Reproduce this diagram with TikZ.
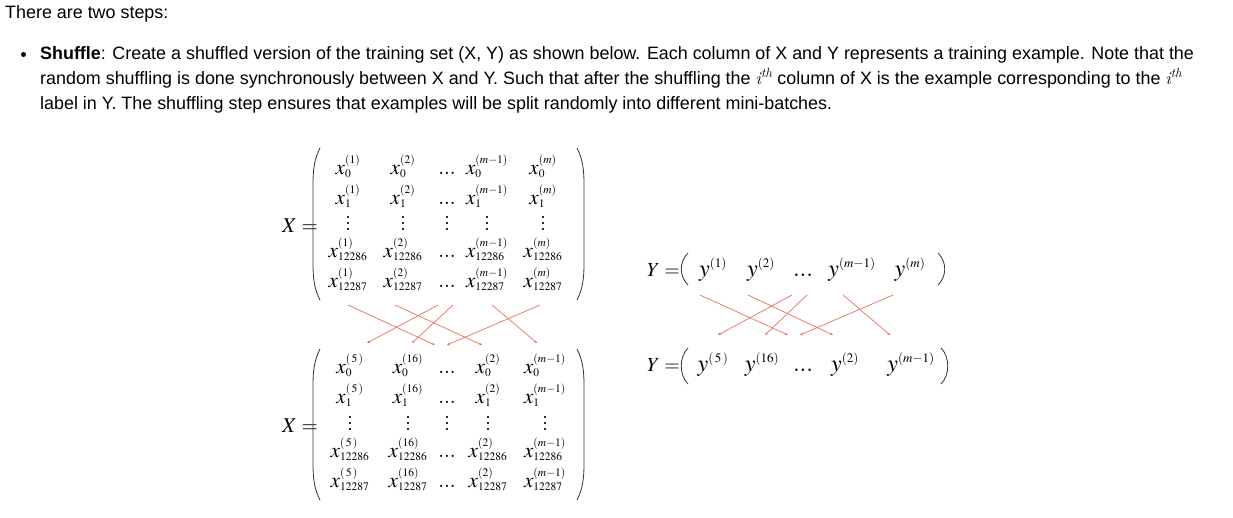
\documentclass[tikz,border=0pt]{standalone}
\usepackage{mathptmx}
\usepackage{fontspec}
\setmainfont{Liberation Sans}
\usetikzlibrary{arrows.meta}
\DeclareMathSizes{21}{21}{11.5}{8}
\DeclareMathSizes{24}{24}{13}{9}
\definecolor{arr}{RGB}{228,112,96}
\newcommand\ith{{\fontfamily{lmr}\selectfont\itshape i\textsuperscript{th}}}
\newcommand\vdts{\vbox{\baselineskip6pt\lineskiplimit0pt\hbox{.}\hbox{.}\hbox{.}}}
\tikzset{
 ent/.style={anchor=base, inner sep=0pt, font=\fontsize{21}{23}\selectfont},
 vd/.style={anchor=center, inner sep=0pt, font=\fontsize{18}{20}\selectfont},
 yent/.style={anchor=base, inner sep=0pt, font=\fontsize{24}{26}\selectfont},
 lab/.style={anchor=base west, inner sep=0pt, font=\fontsize{21}{23}\selectfont},
 shuf/.style={draw=arr, line width=0.7pt, -{Stealth[length=3pt,width=2.6pt]}},
 paren/.style={draw=black!80, line width=0.8pt},
 txt/.style={anchor=base west, inner sep=0pt, font=\fontsize{17.9}{20}\selectfont},
}
\begin{document}
\begin{tikzpicture}[x=1pt,y=-1pt]
\useasboundingbox (0,0) rectangle (1233,517);
% text
\node[txt] (l0) at (5,18.5) {There are two steps:};
\fill (23.5,54.5) circle (2.5);
\node[txt] (l1) at (40,59) {\textbf{Shuffle}: Create a shuffled version of the training set (X, Y) as shown below. Each column of X and Y represents a training example. Note that the};
\node[txt] (l2) at (40,84) {random shuffling is done synchronously between X and Y. Such that after the shuffling the \ith{} column of X is the example corresponding to the \ith};
\node[txt] (l3) at (40,109) {label in Y. The shuffling step ensures that examples will be split randomly into different mini-batches.};

% top X matrix
\node[lab] (X1) at (282,232) {$X=$};
\foreach \c/\s [count=\i] in {348/(1),403/(2),487/(m-1),543/(m)} {
  \foreach \r/\b [count=\j] in {0/174,1/204,12286/257,12287/287} {
    \node[ent] (t\i\j) at (\c,\b) {$x_{\r}^{\s}$};
  }
  \node[vd] (tv\i) at (\c,224) {\vdts};
}
\foreach \b [count=\j] in {174,204,257,287} \node[ent] (td\j) at (447,\b) {$...$};
\node[vd] (tdv) at (447,224) {\vdts};
\draw[paren] (320,148) .. controls (314,160) and (313,170) .. (313,185) -- (313,263) .. controls (313,278) and (314,288) .. (320,300);
\draw[paren] (577,148) .. controls (583,160) and (584,170) .. (584,185) -- (584,263) .. controls (584,278) and (583,288) .. (577,300);

% bottom X matrix
\node[lab] (X2) at (282,432) {$X=$};
\foreach \c/\s [count=\i] in {350/(\,5\,),408/(16),488/(2),545/(m-1)} {
  \foreach \r/\b [count=\j] in {0/373,1/403,12286/457,12287/487} {
    \node[ent] (b\i\j) at (\c,\b) {$x_{\r}^{\s}$};
  }
  \node[vd] (bv\i) at (\c,424) {\vdts};
}
\foreach \b [count=\j] in {373,403,457,487} \node[ent] (bd\j) at (447,\b) {$...$};
\node[vd] (bdv) at (447,424) {\vdts};
\draw[paren] (320,349) .. controls (314,361) and (313,371) .. (313,386) -- (313,463) .. controls (313,478) and (314,488) .. (320,500);
\draw[paren] (577,349) .. controls (583,361) and (584,371) .. (584,386) -- (584,463) .. controls (584,478) and (583,488) .. (577,500);

% X shuffle arrows
\coordinate (xa1) at (348,305); \coordinate (xb1) at (435,345);
\coordinate (xa2) at (395,305); \coordinate (xb2) at (482,345);
\coordinate (xa3) at (438,305); \coordinate (xb3) at (367,343);
\coordinate (xa4) at (453,305); \coordinate (xb4) at (412,343);
\coordinate (xa5) at (492,305); \coordinate (xb5) at (537,343);
\coordinate (xa6) at (540,305); \coordinate (xb6) at (447,345);
\foreach \k in {1,...,6} \draw[shuf] (xa\k) -- (xb\k);

% top Y
\node[lab,font=\fontsize{20}{24}\selectfont] (Y1) at (647,276) {$Y=$};
\node[yent] (ty1) at (713,276) {$y^{(1)}$};
\node[yent] (ty2) at (761,276) {$y^{(2)}$};
\node[yent] (tyd) at (803,276) {$...$};
\node[yent] (ty3) at (852,276) {$y^{(m-1)}$};
\node[yent] (ty4) at (910,276) {$y^{(m)}$};
\draw[paren] (688,253) .. controls (679,262) and (679,276) .. (688,285);
\draw[paren] (938,253) .. controls (947,262) and (947,276) .. (938,285);

% bottom Y
\node[lab,font=\fontsize{20}{24}\selectfont] (Y2) at (647,371) {$Y=$};
\node[yent] (by1) at (713,371) {$y^{(\,5\,)}$};
\node[yent] (by2) at (762,371) {$y^{(16)}$};
\node[yent] (byd) at (803,371) {$...$};
\node[yent] (by3) at (845,371) {$y^{(2)}$};
\node[yent] (by4) at (911,371) {$y^{(m-1)}$};
\draw[paren] (688,348) .. controls (679,357) and (679,375) .. (688,384);
\draw[paren] (941,348) .. controls (950,357) and (950,375) .. (941,384);

% Y shuffle arrows
\coordinate (ya1) at (700,295); \coordinate (yb1) at (788,335);
\coordinate (ya2) at (748,295); \coordinate (yb2) at (833,335);
\coordinate (ya3) at (792,295); \coordinate (yb3) at (718,335);
\coordinate (ya4) at (807,295); \coordinate (yb4) at (765,335);
\coordinate (ya5) at (843,295); \coordinate (yb5) at (890,335);
\coordinate (ya6) at (893,295); \coordinate (yb6) at (800,335);
\foreach \k in {1,...,6} \draw[shuf] (ya\k) -- (yb\k);
\end{tikzpicture}
\end{document}
